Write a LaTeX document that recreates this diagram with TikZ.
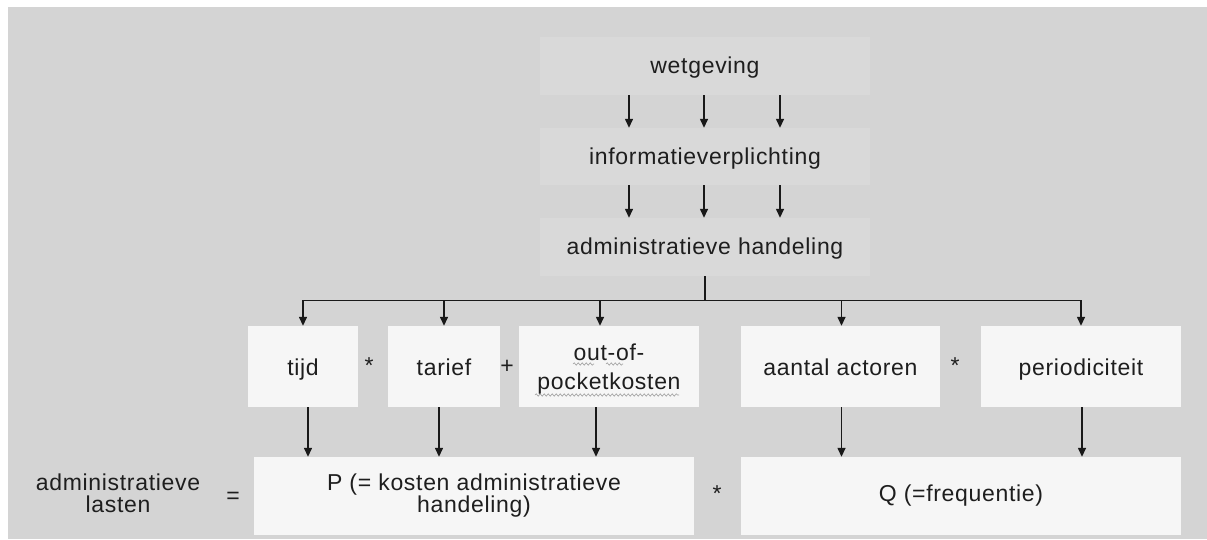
\documentclass[tikz,border=0pt]{standalone}
\usepackage{fontspec}
\setmainfont{Liberation Sans}[LetterSpace=3]
\usetikzlibrary{positioning,arrows.meta,decorations.pathmorphing}

\definecolor{fon}{HTML}{D4D4D4}
\definecolor{blok}{HTML}{F6F6F6}
\definecolor{verhblok}{HTML}{D9D9D9}
\definecolor{tekst}{HTML}{1E1E1E}

\tikzset{
  lijn/.style={line width=1.4pt,draw=black!90},
  pijl/.style={lijn,-{Triangle[length=9pt,width=8pt]}},
  bovenblok/.style={fill=verhblok,text=tekst,inner sep=0pt,minimum width=330pt,
    minimum height=58pt,text height=17pt,text depth=2pt},
  rijblok/.style={fill=blok,text=tekst,inner sep=0pt,minimum height=81pt,
    text height=18pt,text depth=1pt},
  onderblok/.style={fill=blok,text=tekst,inner sep=0pt,minimum width=440pt,
    minimum height=78pt,align=center},
  teken/.style={text=tekst,inner sep=0pt},
  golf/.style={draw=gray!75,line width=0.6pt,decorate,
    decoration={snake,amplitude=1.2pt,segment length=4pt}}
}

\begin{document}
\begin{tikzpicture}[x=1pt,y=-1pt,font=\fontsize{23}{22}\selectfont]
%фон
\useasboundingbox (0,0) rectangle (1207,539);
\fill[fon] (8,7) rectangle (1207,539);
%верхние блоки
\node[bovenblok] (wet) at (705,66) {wetgeving};
\node[bovenblok,minimum height=57pt] (info) at (705,156.5) {informatieverplichting};
\node[bovenblok] (hand) at (705,247) {administratieve handeling};
%средний ряд
\node[rijblok,minimum width=110pt] (tijd) at (303,366.5) {tijd};
\node[rijblok,minimum width=112pt] (tarief) at (444,366.5) {tarief};
\node[rijblok,minimum width=180pt] (oop) at (609,366.5) {};
\node[teken,align=center,font=\fontsize{23}{23}\selectfont] (ooptekst) at (609,369.5)
  {out-of-\\[6pt]pocketkosten};
\node[rijblok,minimum width=199pt] (aantal) at (840.5,366.5) {aantal actoren};
\node[rijblok,minimum width=200pt] (periode) at (1081,366.5) {periodiciteit};
\node[teken] (maal1) at (369,366) {*};
\node[teken] (plus) at (507,367) {+};
\node[teken] (maal2) at (955,366) {*};
%нижний ряд
\node[onderblok] (P) at (474,496) {P (= kosten administratieve\\handeling)};
\node[onderblok] (Q) at (961,496) {Q (=frequentie)};
\node[teken,align=center] (lasten) at (118,493) {administratieve\\lasten};
\node[teken] (is) at (233,498) {=};
\node[teken] (maal3) at (717,494) {*};
%волнистые подчёркивания
\draw[golf] (573,364) -- (594,364);
\draw[golf] (606,364) -- (623,364);
\draw[golf] (535,395) -- (679,395);
%стрелки сверху
\foreach \dx in {-76,-1,75}{
  \draw[pijl] ([xshift=\dx pt]wet.south) -- ([xshift=\dx pt]info.north);
  \draw[pijl] ([xshift=\dx pt]info.south) -- ([xshift=\dx pt]hand.north);
}
\draw[lijn] (hand.south) -- ++(0,24) coordinate (splits);
\draw[lijn] (splits -| tijd) -- (splits -| periode);
\foreach \n/\s in {tijd/0,tarief/0,oop/-9,aantal/1,periode/0}
  \draw[pijl] ([xshift=\s pt]splits -| \n) -- ([xshift=\s pt]\n.north);
%стрелки вниз
\foreach \n/\d/\s in {tijd/P/5,tarief/P/-5,oop/P/-13,aantal/Q/1,periode/Q/1}
  \draw[pijl] ([xshift=\s pt]\n.south) -- ([xshift=\s pt]\n.south |- \d.north);
\end{tikzpicture}
\end{document}
